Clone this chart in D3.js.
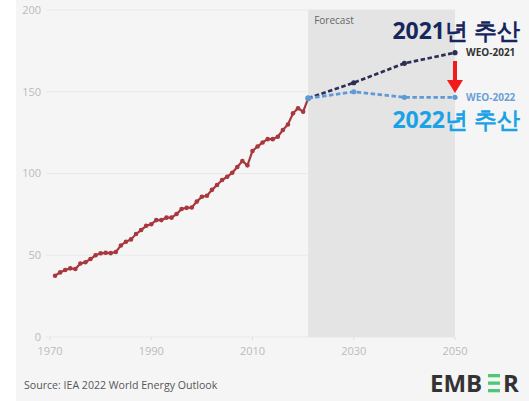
<!DOCTYPE html>
<html>
<head>
<meta charset="utf-8">
<script src="https://cdn.jsdelivr.net/npm/d3@7"></script>
<style>
  body { margin: 0; background: #fff; }
  text { font-family: 'Open Sans', sans-serif; }
</style>
</head>
<body>
<script>
// historical series, 1971-2021
const histYears = d3.range(1971, 2022);
const histValues = [
  37.5, 39.5, 41, 42, 41.6, 45, 45.7, 47.7, 50, 51.2,
  51.5, 51.3, 52, 56, 58.3, 59.7, 63, 65.4, 68, 69,
  71.5, 71.5, 73, 73, 75.2, 78.3, 79, 79.2, 82.8, 85.8,
  86.4, 90, 93, 96, 98, 100.5, 104, 107.6, 105, 113.8,
  116.5, 119, 121, 121, 122.5, 126.6, 130, 136.8, 139.9, 137.8,
  146
];
const forecastYears = [2021, 2030, 2040, 2050];
const weo2021 = [146, 155.5, 167.4, 173.9];
const weo2022 = [146, 150, 146.6, 146.6];
const yTicks = [0, 50, 100, 150, 200];
const xTicks = [1970, 1990, 2010, 2030, 2050];
const forecastRange = [2021, 2050];

const width = 529;
const height = 401;

const x = d3.scaleLinear([1970, 2050], [50, 455]);
const y = d3.scaleLinear([0, 200], [337, 10]);

const svg = d3.create('svg')
  .attr('width', width)
  .attr('height', height);

// panel background
svg.append('rect')
  .attr('x', 16).attr('y', 0)
  .attr('width', width - 16).attr('height', height)
  .attr('fill', '#f5f5f5');

// gridlines
svg.append('g')
  .selectAll('line')
  .data(yTicks)
  .join('line')
  .attr('x1', 46).attr('x2', x(2050))
  .attr('y1', d => y(d)).attr('y2', d => y(d))
  .attr('stroke', '#e9e9e9')
  .attr('stroke-width', 1);

// forecast area
svg.append('rect')
  .attr('x', x(forecastRange[0]))
  .attr('y', y(200))
  .attr('width', x(forecastRange[1]) - x(forecastRange[0]))
  .attr('height', y(0) - y(200))
  .attr('fill', '#e4e4e4');

svg.append('text')
  .attr('x', x(forecastRange[0]) + 6)
  .attr('y', 24)
  .attr('font-size', 10)
  .attr('fill', '#666')
  .text('Forecast');

// y labels
svg.append('g')
  .selectAll('text')
  .data(yTicks)
  .join('text')
  .attr('x', 41)
  .attr('y', d => y(d))
  .attr('dy', '0.35em')
  .attr('text-anchor', 'end')
  .attr('font-size', 11)
  .attr('fill', '#bbb')
  .text(d => d);

// x ticks and labels
svg.append('g')
  .selectAll('line')
  .data(xTicks)
  .join('line')
  .attr('x1', d => x(d)).attr('x2', d => x(d))
  .attr('y1', y(0)).attr('y2', y(0) + 3)
  .attr('stroke', '#ddd');

svg.append('g')
  .selectAll('text')
  .data(xTicks)
  .join('text')
  .attr('x', d => x(d))
  .attr('y', 351)
  .attr('dy', '0.35em')
  .attr('text-anchor', 'middle')
  .attr('font-size', 11)
  .attr('fill', '#bbb')
  .text(d => d);

// historical line
const hist = histYears.map((d, i) => ({year: d, value: histValues[i]}));
const line = d3.line().x(d => x(d.year)).y(d => y(d.value));

svg.append('path')
  .datum(hist)
  .attr('d', line)
  .attr('fill', 'none')
  .attr('stroke', '#a8383e')
  .attr('stroke-width', 2.2);

svg.append('g')
  .selectAll('circle')
  .data(hist)
  .join('circle')
  .attr('cx', d => x(d.year))
  .attr('cy', d => y(d.value))
  .attr('r', 2.3)
  .attr('fill', '#a8383e');

// forecast lines
const series = [
  {name: 'WEO-2021', values: weo2021, color: '#2c2f55', label: '#333'},
  {name: 'WEO-2022', values: weo2022, color: '#5e9ad8', label: '#6a9fd8'},
];

series.forEach(s => {
  const pts = forecastYears.map((d, i) => ({year: d, value: s.values[i]}));
  svg.append('path')
    .datum(pts)
    .attr('d', line)
    .attr('fill', 'none')
    .attr('stroke', s.color)
    .attr('stroke-width', 2.7)
    .attr('stroke-dasharray', '4.5,2.5');
  svg.append('g')
    .selectAll('circle')
    .data(pts.slice(1))
    .join('circle')
    .attr('cx', d => x(d.year))
    .attr('cy', d => y(d.value))
    .attr('r', 2.6)
    .attr('fill', s.color);
  svg.append('text')
    .attr('x', x(2050) + 11)
    .attr('y', y(s.values[s.values.length - 1]))
    .attr('dy', '0.35em')
    .attr('font-size', 10)
    .attr('font-weight', 'bold')
    .attr('fill', s.label)
    .text(s.name);
});

// join dot at 2021
svg.append('circle')
  .attr('cx', x(2021)).attr('cy', y(146))
  .attr('r', 3)
  .attr('fill', '#5e9ad8');

// annotations
svg.append('text')
  .attr('x', 520).attr('y', 39)
  .attr('text-anchor', 'end')
  .attr('font-family', "'Noto Sans CJK KR', sans-serif")
  .attr('font-size', 23)
  .attr('font-weight', 'bold')
  .attr('fill', '#17275e')
  .text('2021년 추산');

svg.append('text')
  .attr('x', 520).attr('y', 128)
  .attr('text-anchor', 'end')
  .attr('font-family', "'Noto Sans CJK KR', sans-serif")
  .attr('font-size', 23)
  .attr('font-weight', 'bold')
  .attr('fill', '#1aa2e6')
  .text('2022년 추산');

// red arrow
const ax = x(2050);
svg.append('rect')
  .attr('x', ax - 2).attr('y', 61)
  .attr('width', 4).attr('height', 20)
  .attr('fill', '#f21b1b');
svg.append('path')
  .attr('d', `M${ax - 8},80 L${ax + 8},80 L${ax},93 Z`)
  .attr('fill', '#f21b1b');

// source
svg.append('text')
  .attr('x', 24).attr('y', 385)
  .attr('dy', '0.35em')
  .attr('font-size', 10.6)
  .attr('fill', '#555')
  .text('Source: IEA 2022 World Energy Outlook');

// ember logo
const logo = svg.append('g').attr('font-family', "'Open Sans', sans-serif")
  .attr('font-weight', 'bold').attr('font-size', 24).attr('fill', '#333');
logo.append('text').attr('x', 430).attr('y', 392).text('EMB');
const barX = 488;
[374, 381.5, 389].forEach(yy => {
  logo.append('rect')
    .attr('x', barX).attr('y', yy)
    .attr('width', 12).attr('height', 3.3)
    .attr('fill', '#4fc777');
});
logo.append('text').attr('x', 503).attr('y', 392).text('R');

document.body.appendChild(svg.node());
</script>
</body>
</html>
